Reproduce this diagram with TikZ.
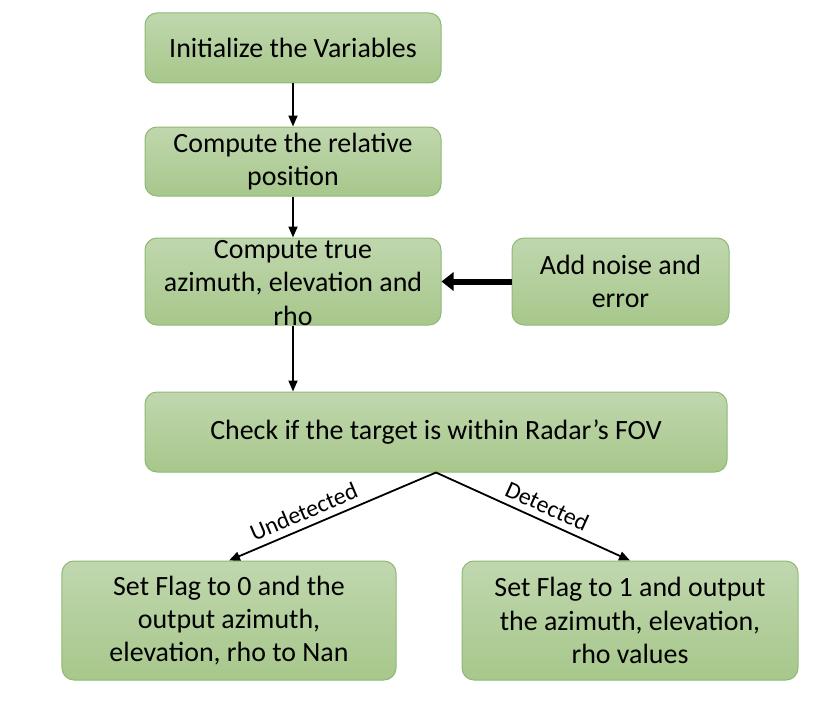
\documentclass[tikz,border=0pt]{standalone}
\usepackage{fontspec}
\setmainfont{Carlito}
\usetikzlibrary{arrows.meta,positioning}
\definecolor{boxtop}{HTML}{C0D7AE}
\definecolor{boxbottom}{HTML}{A7C78B}
\definecolor{boxedge}{HTML}{8FB973}
\tikzset{
    flowbox/.style={rectangle,draw=boxedge,line width=1bp,rounded corners=12bp,top color=boxtop,bottom color=boxbottom,align=center,inner sep=0pt,font=\fontsize{28}{33.5}\selectfont},
    flowline/.style={-{Triangle[length=11bp,width=9bp]},line width=1.8bp},
    feedline/.style={-{Triangle[length=12bp,width=18bp]},line width=6bp},
    flowlabel/.style={sloped,above=3bp,font=\fontsize{24}{28}\selectfont}
}

\begin{document}
\begin{tikzpicture}[x=1bp,y=1bp,node distance=42bp]
            \useasboundingbox (0,0) rectangle (823,-702);
            \node[flowbox,minimum width=296bp,minimum height=70bp] (init) at (293,-48) {Initialize the Variables};
            \node[flowbox,minimum width=296bp,minimum height=69bp,below=43bp of init] (relpos) {Compute the relative\\position};
            \node[flowbox,minimum width=296bp,minimum height=87bp,text height=87bp,text depth=0bp,below=41bp of relpos] (truevals) {Compute true\\azimuth, elevation and\\rho};
            \node[flowbox,minimum width=217bp,minimum height=87bp,right=70bp of truevals] (noise) {Add noise and\\error};
            \node[flowbox,minimum width=582bp,minimum height=80bp,below=66bp of truevals.south west,anchor=north west] (fov) {Check if the target is within Radar’s FOV};
            \node[flowbox,minimum width=334bp,minimum height=119bp,below=88bp of fov.south,xshift=-207bp] (undet) {Set Flag to 0 and the\\output azimuth,\\elevation, rho to Nan};
            \node[flowbox,minimum width=336bp,minimum height=119bp,below=88bp of fov.south,xshift=194bp] (det) {Set Flag to 1 and output\\the azimuth, elevation,\\rho values};
            \draw[flowline] (init) -- (relpos);
            \draw[flowline] (relpos) -- (truevals);
            \draw[feedline] (noise) -- (truevals);
            \draw[flowline] (truevals) -- (truevals |- fov.north);
            \draw[flowline] (fov.south) -- node[flowlabel,pos=0.61]{Undetected} (undet.north);
            \draw[flowline] (fov.south) -- node[flowlabel,pos=0.54]{Detected} (det.north);
        \end{tikzpicture}
\end{document}
